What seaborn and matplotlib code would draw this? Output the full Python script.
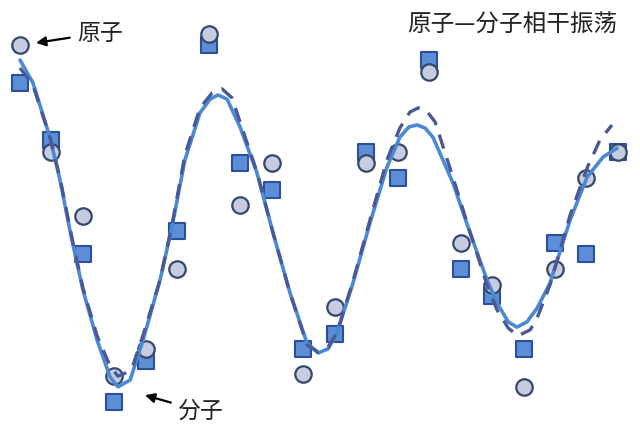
import matplotlib
matplotlib.use("Agg")
import matplotlib.pyplot as plt
import seaborn as sns
import pandas as pd

# sample index (time steps) and measured populations
t_points = list(range(20))
atom_pop = [0.96, 0.68, 0.51, 0.09, 0.16, 0.37, 0.99, 0.54, 0.65, 0.095,
            0.27, 0.65, 0.68, 0.89, 0.44, 0.33, 0.06, 0.37, 0.61, 0.68]
molecule_pop = [0.86, 0.71, 0.41, 0.02, 0.13, 0.47, 0.96, 0.65, 0.58, 0.16,
                0.20, 0.68, 0.61, 0.92, 0.37, 0.30, 0.16, 0.44, 0.41, 0.68]

# fitted curves
fit_solid_t = [0, 0.41, 0.95, 1.27, 1.65, 2.00, 2.45, 2.86, 3.11, 3.50,
               3.91, 4.45, 4.83, 5.24, 5.72, 6.04, 6.29, 6.58, 6.99, 7.53,
               8.04, 8.58, 9.12, 9.47, 9.79, 10.07, 10.58, 11.12, 11.66, 12.07,
               12.36, 12.62, 12.87, 13.12, 13.76, 14.30, 14.84, 15.16, 15.51, 15.79,
               16.11, 16.43, 16.84, 17.48, 18.02, 18.53, 18.97]
fit_solid_v = [0.921, 0.861, 0.718, 0.605, 0.447, 0.316, 0.184, 0.087, 0.061, 0.079,
               0.184, 0.342, 0.482, 0.658, 0.782, 0.818, 0.829, 0.818, 0.745, 0.624,
               0.466, 0.308, 0.176, 0.150, 0.161, 0.203, 0.334, 0.492, 0.639, 0.718,
               0.745, 0.750, 0.742, 0.718, 0.597, 0.466, 0.342, 0.282, 0.232, 0.218,
               0.232, 0.268, 0.334, 0.500, 0.613, 0.666, 0.689]
fit_dash_t = [0, 0.41, 0.95, 1.27, 1.65, 2.00, 2.45, 2.86, 3.11, 3.43,
              3.59, 3.91, 4.45, 4.83, 5.24, 5.72, 6.10, 6.42, 6.74, 6.99,
              7.53, 8.04, 8.58, 9.12, 9.47, 9.79, 10.07, 10.58, 11.12, 11.66,
              12.07, 12.39, 12.65, 12.90, 13.19, 13.76, 14.30, 14.84, 15.16, 15.51,
              15.82, 16.21, 16.43, 16.84, 17.48, 18.02, 18.43, 18.81]
fit_dash_v = [0.900, 0.855, 0.718, 0.611, 0.453, 0.321, 0.195, 0.116, 0.089, 0.100,
              0.118, 0.197, 0.342, 0.487, 0.671, 0.795, 0.834, 0.845, 0.821, 0.758,
              0.626, 0.466, 0.308, 0.171, 0.153, 0.166, 0.203, 0.339, 0.500, 0.658,
              0.742, 0.784, 0.795, 0.789, 0.758, 0.611, 0.468, 0.329, 0.263, 0.216,
              0.195, 0.211, 0.242, 0.329, 0.513, 0.637, 0.711, 0.750]

title_text = "原子—分子相干振荡"
atom_label = "原子"
molecule_label = "分子"

sns.set_theme(style="white")
plt.rcParams['font.family'] = ['Noto Sans CJK SC', 'DejaVu Sans']

fig = plt.figure(figsize=(6.4, 4.36), dpi=100)
ax = fig.add_axes([0, 0, 1, 1])

df = pd.DataFrame({"t": t_points, "atom": atom_pop, "molecule": molecule_pop})

sns.scatterplot(data=df, x="t", y="molecule", ax=ax, marker="s", s=140,
                color="#5b8ed6", edgecolor="#2b4f9c", linewidth=1.5, zorder=2)
sns.scatterplot(data=df, x="t", y="atom", ax=ax, marker="o", s=140,
                color="#c8cce0", edgecolor="#34486a", linewidth=1.6, zorder=3)

sns.lineplot(x=fit_solid_t, y=fit_solid_v, ax=ax, color="#4a8ad4",
             linewidth=2.6, estimator=None, zorder=4,
             solid_joinstyle="round", solid_capstyle="round")
sns.lineplot(x=fit_dash_t, y=fit_dash_v, ax=ax, color="#4a5896",
             linewidth=2.4, estimator=None, zorder=5, linestyle=(0, (4.4, 3.0)),
             dash_joinstyle="round")

ax.set_xlim(-0.6355, 19.70)
ax.set_ylim(-0.0684, 1.0789)
ax.axis("off")

ax.text(15.63, 1.013, title_text, fontsize=17, ha="center", va="center",
        color="#222222")
ax.annotate(atom_label, xy=(0.51, 0.966), xytext=(2.54, 0.992),
            fontsize=16.5, ha="center", va="center", color="#222222",
            arrowprops=dict(arrowstyle="-|>", color="black", lw=1.6,
                            mutation_scale=14, shrinkA=3, shrinkB=0))
ax.annotate(molecule_label, xy=(3.97, 0.039), xytext=(5.75, -0.003),
            fontsize=16.5, ha="center", va="center", color="#222222",
            arrowprops=dict(arrowstyle="-|>", color="black", lw=1.6,
                            mutation_scale=14, shrinkA=3, shrinkB=0))

fig.savefig("out.png", dpi=100)
